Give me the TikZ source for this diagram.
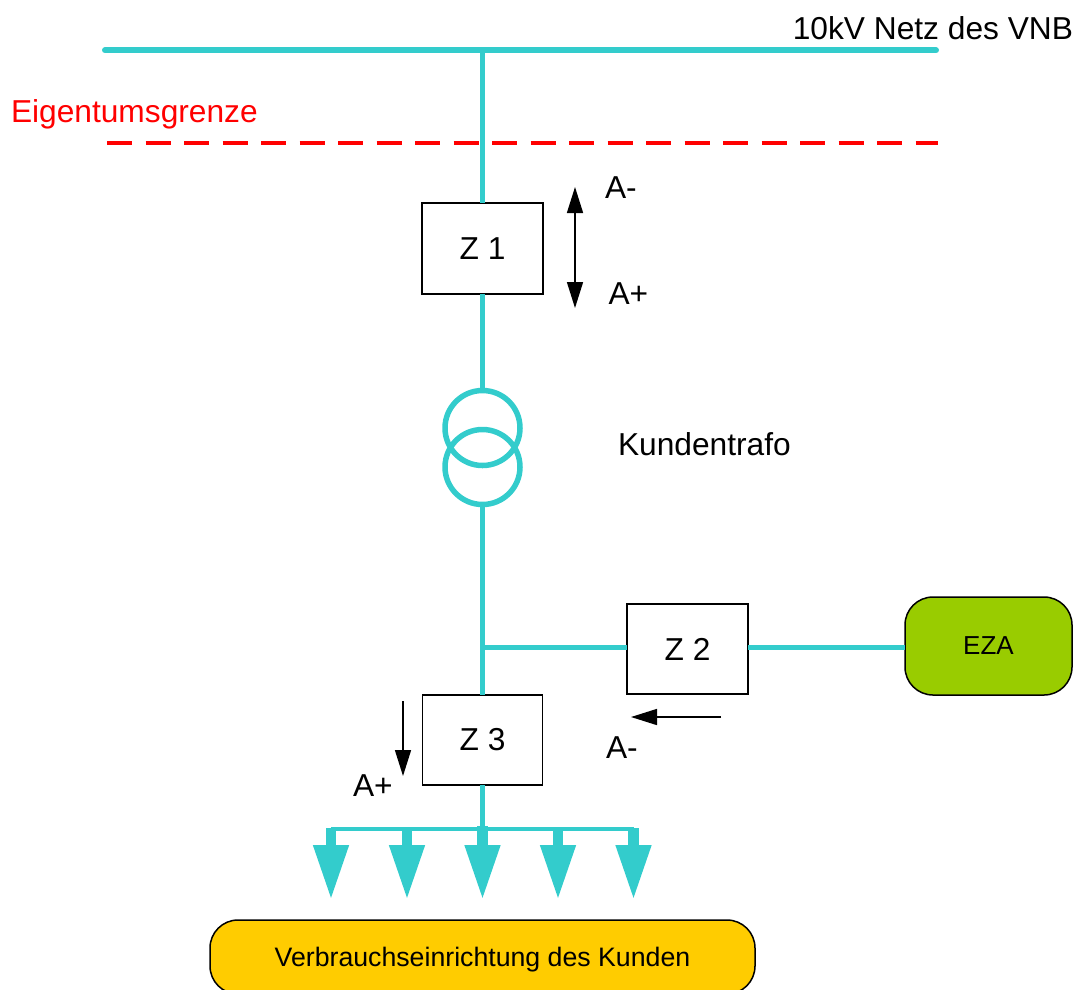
\documentclass[tikz,border=0pt]{standalone}
\usepackage{fontspec}
\setmainfont{Liberation Sans}
\usetikzlibrary{arrows.meta}
\definecolor{netz}{HTML}{33CCCC}
\definecolor{eza}{HTML}{99CC00}
\definecolor{verb}{HTML}{FFCC00}
\tikzset{
  bus/.style={draw=netz,line width=5.5pt},
  meter/.style={draw=black,fill=white,line width=1.5pt,minimum width=121pt,minimum height=91pt,inner sep=0pt,outer sep=0pt,font=\fontsize{31.7}{36}\selectfont},
  lbl/.style={inner sep=0pt,outer sep=0pt,font=\fontsize{31.7}{36}\selectfont},
  trafo/.style={circle,draw=netz,line width=5.5pt,minimum size=75pt,inner sep=0pt,outer sep=0pt},
  consumer/.style={rounded corners=28pt,draw=black,line width=1.5pt,inner sep=0pt,outer sep=0pt},
  sig/.style={draw=black,line width=1.5pt,-{Triangle[length=26pt,width=16pt]}},
  sigboth/.style={draw=black,line width=1.5pt,{Triangle[length=26pt,width=16pt]}-{Triangle[length=26pt,width=16pt]}},
  feed/.style={draw=netz,line width=10.5pt,-{Triangle[length=55pt,width=33pt]}}
}
\begin{document}
\begin{tikzpicture}[x=1pt,y=-1pt]
\useasboundingbox (0,0) rectangle (1075,989);
\clip (0,0) rectangle (1075,989);
\coordinate (busL) at (105,50.3);
\coordinate (busR) at (936,50.3);
\coordinate (busT) at (482.5,50.3);
\coordinate (redL) at (107,143);
\coordinate (redR) at (938,143);
\coordinate (jct) at (482.5,647.5);
\coordinate (fanL) at (331,829);
\coordinate (fanR) at (633.5,829);
\coordinate (fanT) at (482.5,829);
\coordinate (f1) at (331,828);\coordinate (t1) at (331,900);
\coordinate (f2) at (407,828);\coordinate (t2) at (407,900);
\coordinate (f3) at (482.5,826);\coordinate (t3) at (482.5,900);
\coordinate (f4) at (558,828);\coordinate (t4) at (558,900);
\coordinate (f5) at (633.5,828);\coordinate (t5) at (633.5,900);
\coordinate (s1a) at (575,187);\coordinate (s1b) at (575,308);
\coordinate (s2a) at (721,717);\coordinate (s2b) at (631,717);
\coordinate (s3a) at (403,701);\coordinate (s3b) at (403,776);

\node[meter] (z1) at (482.5,248.5) {Z 1};
\node[meter,minimum height=90pt] (z2) at (687.5,649) {Z 2};
\node[meter,minimum height=90pt,minimum width=120pt] (z3) at (482.5,740) {Z 3};
\node[trafo] (tr1) at (482.5,428) {};
\node[trafo] (tr2) at (482.5,467) {};
\node[consumer,fill=eza,minimum width=167pt,minimum height=98pt,font=\fontsize{26}{30}\selectfont] (ezabox) at (988.5,646) {EZA};
\node[consumer,fill=verb,minimum width=545pt,minimum height=74pt,text height=20pt,text depth=2pt,font=\fontsize{26.7}{30}\selectfont] (verbbox) at (482.5,957) {Verbrauchseinrichtung des Kunden};

\draw[bus,line width=6pt,line cap=round] (busL) -- (busR);
\draw[bus] (busT) -- (z1.north);
\draw[bus] (z1.south) -- (tr1.north);
\draw[bus] (tr2.south) -- (z3.north);
\draw[bus] (jct) -- (jct -| z2.west);
\draw[bus] (jct -| z2.east) -- (jct -| ezabox.west);
\draw[bus] (z3.south) -- (fanT);
\draw[draw=netz,line width=4pt] (fanL) -- (fanR);
\foreach \i in {1,...,5} \draw[feed] (f\i) -- (t\i);
\draw[draw=red,line width=3.5pt,dash pattern=on 25pt off 13.5pt] (redL) -- (redR);
\draw[sigboth] (s1a) -- (s1b);
\draw[sig] (s2a) -- (s2b);
\draw[sig] (s3a) -- (s3b);

\node[lbl,anchor=base east] (netzlbl) at (1073,39.5) {10kV Netz des VNB};
\node[lbl,anchor=base west,text=red] (eg) at (11,122) {Eigentumsgrenze};
\node[lbl,anchor=base west] (am1) at (605,198) {A-};
\node[lbl,anchor=base west] (ap1) at (608.5,304.5) {A+};
\node[lbl,anchor=base west] (kt) at (618,455.5) {Kundentrafo};
\node[lbl,anchor=base west] (am2) at (606,758) {A-};
\node[lbl,anchor=base west] (ap3) at (353,796.5) {A+};
\end{tikzpicture}
\end{document}
